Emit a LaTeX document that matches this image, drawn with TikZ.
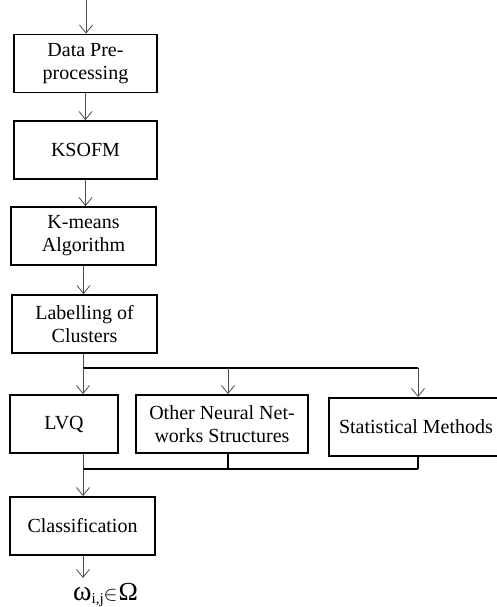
\documentclass[tikz,border=0pt]{standalone}
\usepackage{fontspec}
\setmainfont{Liberation Serif}
\usetikzlibrary{arrows.meta}
\begin{document}
\begin{tikzpicture}[x=1pt,y=-1pt,
  box/.style={draw, line width=1.8pt, minimum height=58pt, align=center,
    font=\fontsize{20}{23}\selectfont, inner sep=0pt},
  arr/.style={draw=black!70, line width=0.8pt, -{Straight Barb[length=8pt,width=13pt,line width=0.8pt]}},
  bus/.style={line width=1.5pt}]
\useasboundingbox (0,0) rectangle (496,607);

\node[box, minimum width=143pt] (dp)  at (85.5,63.5) {Data Pre-\\processing};
\node[box, minimum width=143pt] (ks)  at (85.5,150) {KSOFM};
\node[box, minimum width=145pt] (km)  at (83.5,236) {K-means\\Algorithm};
\node[box, minimum width=145pt] (lab) at (84.5,324) {Labelling of\\Clusters};
\node[box, minimum width=108pt] (lvq) at (64,424) {LVQ};
\node[box, minimum width=172pt] (oth) at (222,424) {Other Neural Net-\\works Structures};
\node[box, minimum width=174pt] (sta) at (416,427) {Statistical Methods};
\node[box, minimum width=145pt] (cls) at (82.5,526) {Classification};
\node[anchor=base west, inner sep=0pt] (out) at (73,600)
  {{\fontsize{28}{28}\selectfont ω}\raisebox{-3pt}{\fontsize{15}{15}\selectfont i,j}{\fontsize{21}{21}\selectfont$\in$}\kern1pt{\fontsize{26}{26}\selectfont Ω}};

\coordinate (in)  at (86,0);
\coordinate (t1)  at (83,368);
\coordinate (t2)  at (228,368);
\coordinate (t3)  at (418,368);
\coordinate (m1)  at (83,469);
\coordinate (m2)  at (228,469);
\coordinate (m3)  at (418,469);
\coordinate (end) at (83,578);

\draw[arr] (in) -- (in |- dp.north);
\draw[arr] (dp.south) -- (ks.north);
\draw[arr] (ks.south) -- (ks.south |- km.north);
\draw[arr] (km.south) -- (km.south |- lab.north);

\draw[draw=black!70, line width=0.8pt] (lab.south -| t1) -- (t1);
\draw[bus] (t1) -- (t3);
\draw[arr] (t1) -- (t1 |- lvq.north);
\draw[arr] (t2) -- (t2 |- oth.north);
\draw[arr] (t3) -- (t3 |- sta.north);

\draw[draw=black!70, line width=0.8pt] (m1 |- lvq.south) -- (m1);
\draw[bus] (m2 |- oth.south) -- (m2);
\draw[bus] (m3 |- sta.south) -- (m3);
\draw[bus] (m1) -- (m3);
\draw[arr] (m1) -- (m1 |- cls.north);
\draw[arr] (cls.south -| end) -- (end);
\end{tikzpicture}
\end{document}
